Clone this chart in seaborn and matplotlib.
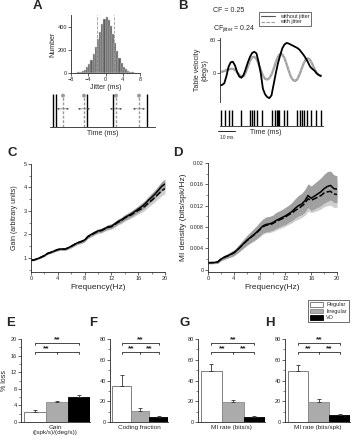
import numpy as np
import pandas as pd
import matplotlib
matplotlib.use("Agg")
import matplotlib.pyplot as plt
import seaborn as sns
from matplotlib.lines import Line2D
from matplotlib.patches import Patch
from matplotlib.ticker import MultipleLocator, FuncFormatter

sns.set_style("ticks")
plt.rcParams["font.family"] = ["Liberation Sans", "DejaVu Sans"]
plt.rcParams["mathtext.fontset"] = "custom"
plt.rcParams["mathtext.rm"] = "Liberation Sans"
plt.rcParams["mathtext.it"] = "Liberation Sans"

# ---------------- data ----------------
# A: jitter histogram
jitter_bin_edges = [-7.0, -6.5, -6.0, -5.5, -5.0, -4.5, -4.0, -3.5, -3.0, -2.5, -2.0, -1.5, -1.0, -0.5,
                    0.0, 0.5, 1.0, 1.5, 2.0, 2.5, 3.0, 3.5, 4.0, 4.5, 5.0, 5.5, 6.0, 6.5, 7.0]
jitter_counts = [3, 6, 11, 18, 30, 48, 75, 110, 160, 220, 290, 355, 420, 465,
                 480, 460, 405, 335, 260, 190, 130, 88, 56, 34, 20, 11, 6, 3]
jitter_sd_marks = [-2, 2]
spikes_true = [3, 6, 37, 63, 97]
spikes_jittered = [13, 34, 66, 89]
jitter_halfwidth = 6

# B: table velocity traces (sampled every 1.25 ms)
vel_stim = [2, 3, 4, 6, 7, 8, 8, 6, 2, -3, -6, -5, 2, 12, 23, 29, 30, 26, 17, 6, -4, -10, -11, -9,
            -2, 8, 20, 30, 35, 34, 28, 17, 5, -6, -12, -14, -11, -3, 8, 18, 25, 27, 24, 17, 8, 1, -3, -4]
vel_jitter = [3, 2, 5, 5, 8, 9, 7, 5, 1, -4, -5, -4, 3, 13, 22, 30, 29, 25, 16, 5, -5, -9, -12, -8,
              -1, 9, 21, 31, 33, 36, 27, 18, 4, -5, -11, -13, -10, -2, 9, 19, 27, 25, 26, 15, 9, 2, -2, -5]
vel_nojitter = [-22, -21, -18, -5, 12, 20, 21, 14, 2, -6, -8, -3, 8, 20, 30, 37, 39, 36, 20, 0, -28, -38, -43, -45,
                -40, -20, 0, 18, 32, 45, 52, 55, 54, 52, 50, 48, 46, 43, 38, 33, 27, 20, 12, 8, 5, 0, -3, -5]
raster_spikes = [0.3, 2.9, 5.5, 6.8, 12, 17.5, 18.9, 19.8, 21.8, 24.3, 30.3, 32, 33, 33.8, 34.5,
                 37.3, 39.3, 44.6, 46.6, 47.8, 49.1, 50.5, 52.9, 55.9, 58.6]
scale_bar_ms = [-1, 9]

# C/D: frequency axis
freq_hz = [0, 0.5, 1, 1.5, 2, 2.5, 3, 3.5, 4, 4.5, 5, 5.5, 6, 6.5, 7, 7.5, 8, 8.5, 9, 9.5, 10,
           10.5, 11, 11.5, 12, 12.5, 13, 13.5, 14, 14.5, 15, 15.5, 16, 16.5, 17, 17.5, 18, 18.5, 19, 19.5, 20]
gain_nojit = [0.90, 0.92, 0.97, 1.03, 1.10, 1.20, 1.24, 1.30, 1.36, 1.38, 1.37, 1.42, 1.50, 1.58, 1.65,
              1.70, 1.76, 1.92, 2.00, 2.08, 2.15, 2.18, 2.25, 2.32, 2.35, 2.45, 2.55, 2.62, 2.72, 2.80,
              2.88, 2.98, 3.08, 3.18, 3.30, 3.45, 3.58, 3.72, 3.88, 4.05, 4.15]
gain_jit = [0.90, 0.92, 0.97, 1.03, 1.10, 1.19, 1.24, 1.30, 1.35, 1.38, 1.37, 1.42, 1.49, 1.57, 1.64,
            1.69, 1.75, 1.90, 1.98, 2.06, 2.13, 2.16, 2.23, 2.30, 2.33, 2.42, 2.52, 2.59, 2.70, 2.77,
            2.84, 2.93, 3.02, 3.10, 3.20, 3.33, 3.45, 3.58, 3.72, 3.86, 3.95]
gain_sem_nojit = [0.03, 0.03, 0.03, 0.03, 0.04, 0.04, 0.04, 0.04, 0.05, 0.05, 0.05, 0.05, 0.06, 0.06, 0.06,
                  0.07, 0.07, 0.07, 0.08, 0.08, 0.08, 0.09, 0.09, 0.10, 0.10, 0.10, 0.11, 0.11, 0.12, 0.12,
                  0.13, 0.13, 0.14, 0.15, 0.15, 0.16, 0.17, 0.18, 0.19, 0.20, 0.21]
gain_sem_jit = [0.03, 0.03, 0.03, 0.04, 0.04, 0.04, 0.05, 0.05, 0.05, 0.06, 0.06, 0.06, 0.07, 0.07, 0.07,
                0.08, 0.08, 0.08, 0.09, 0.09, 0.10, 0.10, 0.10, 0.11, 0.11, 0.12, 0.12, 0.13, 0.13, 0.14,
                0.14, 0.15, 0.15, 0.16, 0.17, 0.17, 0.18, 0.19, 0.20, 0.21, 0.22]
mi_nojit = [0.00135, 0.00135, 0.00138, 0.00150, 0.00200, 0.00235, 0.00260, 0.00290, 0.00320, 0.00370,
            0.00430, 0.00490, 0.00550, 0.00600, 0.00650, 0.00700, 0.00760, 0.00820, 0.00850, 0.00860,
            0.00880, 0.00920, 0.00950, 0.00980, 0.01010, 0.01050, 0.01090, 0.01150, 0.01200, 0.01230,
            0.01290, 0.01390, 0.01340, 0.01380, 0.01420, 0.01460, 0.01520, 0.01560, 0.01580, 0.01520, 0.01510]
mi_jit = [0.00135, 0.00135, 0.00137, 0.00148, 0.00198, 0.00232, 0.00258, 0.00287, 0.00317, 0.00366,
          0.00425, 0.00484, 0.00543, 0.00592, 0.00641, 0.00690, 0.00748, 0.00806, 0.00835, 0.00845,
          0.00864, 0.00902, 0.00930, 0.00958, 0.00990, 0.01030, 0.01060, 0.01110, 0.01150, 0.01190,
          0.01240, 0.01330, 0.01300, 0.01330, 0.01360, 0.01390, 0.01440, 0.01460, 0.01470, 0.01420, 0.01410]
mi_sem_nojit = [0.0002, 0.0002, 0.0002, 0.0003, 0.0003, 0.0004, 0.0004, 0.0005, 0.0005, 0.0006,
                0.0007, 0.0008, 0.0009, 0.0010, 0.0011, 0.0012, 0.0013, 0.0013, 0.0014, 0.0014,
                0.0014, 0.0015, 0.0015, 0.0015, 0.0016, 0.0016, 0.0017, 0.0018, 0.0019, 0.0020,
                0.0021, 0.0022, 0.0023, 0.0024, 0.0025, 0.0026, 0.0027, 0.0028, 0.0027, 0.0026, 0.0025]
mi_sem_jit = [0.0002, 0.0002, 0.0002, 0.0003, 0.0003, 0.0004, 0.0004, 0.0005, 0.0006, 0.0006,
              0.0007, 0.0008, 0.0009, 0.0010, 0.0011, 0.0012, 0.0013, 0.0014, 0.0014, 0.0015,
              0.0015, 0.0016, 0.0016, 0.0017, 0.0017, 0.0018, 0.0018, 0.0019, 0.0020, 0.0021,
              0.0022, 0.0023, 0.0023, 0.0024, 0.0025, 0.0025, 0.0026, 0.0026, 0.0026, 0.0025, 0.0024]

# E-H: % loss bars
groups = ["Regular", "Irregular", "VO"]
loss_gain = [2.3, 4.8, 6.0]
loss_gain_err = [0.7, 0.3, 0.5]
loss_cf = [35, 11, 5]
loss_cf_err = [10, 2.5, 1]
loss_mi_rate = [49, 19, 4.5]
loss_mi_rate_err = [7, 2, 1]
loss_mi_spk = [49, 19.5, 7]
loss_mi_spk_err = [6, 3, 1]

# ---------------- figure ----------------
W, H = 359, 440
fig = plt.figure(figsize=(W / 100, H / 100), dpi=100)


def add_ax(l, t, r, b):
    return fig.add_axes([l / W, 1 - b / H, (r - l) / W, (b - t) / H])


def style(ax, ls=4):
    for s in ["top", "right"]:
        ax.spines[s].set_visible(False)
    for s in ["left", "bottom"]:
        ax.spines[s].set_linewidth(0.6)
    ax.tick_params(which="major", length=2, width=0.5, labelsize=ls, pad=1)
    ax.tick_params(which="minor", length=1.2, width=0.4)


tick_fmt = FuncFormatter(lambda v, p: "0" if abs(v) < 1e-12 else f"{v:g}")

# ---- A histogram
axA = add_ax(71, 15, 140, 73)
centers = [(a + b) / 2 for a, b in zip(jitter_bin_edges[:-1], jitter_bin_edges[1:])]
sns.histplot(x=centers, weights=jitter_counts, bins=jitter_bin_edges, color="#5e5e5e",
             edgecolor="#d0d0d0", linewidth=0.35, alpha=1, ax=axA)
for v in jitter_sd_marks:
    axA.axvline(v, color="#9a9a9a", ls="--", lw=0.6)
axA.set_xlim(-8, 8)
axA.set_ylim(0, 500)
axA.set_xticks([-8, -4, 0, 4, 8])
axA.set_yticks([0, 200, 400])
style(axA)
axA.set_xlabel("Jitter (ms)", fontsize=5, labelpad=1)
axA.set_ylabel("Number", fontsize=5, labelpad=1)

# ---- A spike schematic
axS = add_ax(50, 94, 155, 127)
sns.rugplot(x=spikes_true, height=1.0, color="k", lw=1.2, expand_margins=False, ax=axS)
sns.rugplot(x=spikes_jittered, height=0.95, color="#9a9a9a", lw=0.8, linestyle=(0, (2, 1.2)),
            expand_margins=False, ax=axS)
sns.scatterplot(x=spikes_jittered, y=[0.95] * len(spikes_jittered), color="#9a9a9a", s=8,
                edgecolor="none", ax=axS, clip_on=False)
for x in spikes_jittered:
    axS.annotate("", xy=(x + jitter_halfwidth, 0.55), xytext=(x - jitter_halfwidth, 0.55),
                 arrowprops=dict(arrowstyle="<|-|>", lw=0.4, color="#555555",
                                 mutation_scale=2.5, shrinkA=0, shrinkB=0))
axS.set_xlim(0, 105)
axS.set_ylim(0, 1)
for s in ["top", "right", "left"]:
    axS.spines[s].set_visible(False)
axS.spines["bottom"].set_linewidth(0.6)
axS.set_xticks([])
axS.set_yticks([])
axS.set_xlabel("Time (ms)", fontsize=5, labelpad=2)

# ---- B traces
t_ms = np.arange(len(vel_stim)) * 1.25
axB = add_ax(220, 38, 323, 102)
sns.lineplot(x=t_ms, y=vel_stim, color="#9a9a9a", lw=1.6, ax=axB)
sns.lineplot(x=t_ms, y=vel_jitter, color="#b4b4b4", lw=1.0, linestyle=(0, (2, 1)), ax=axB)
sns.lineplot(x=t_ms, y=vel_nojitter, color="k", lw=1.3, ax=axB)
axB.set_xlim(0, 60)
axB.set_ylim(-52, 64)
axB.set_yticks([0, 60])
axB.set_xticks([])
style(axB)
axB.spines["bottom"].set_visible(False)
axB.set_ylabel("Table velocity\n(deg/s)", fontsize=5, labelpad=1, linespacing=1.0)

fig.text(213 / W, 1 - 10 / H, "CF = 0.25", fontsize=5, va="center", ha="left")
fig.text(213 / W, 1 - 29 / H, r"CF$_{\rm jitter}$ = 0.24", fontsize=5, va="center", ha="left")
legB = fig.legend(handles=[Line2D([], [], color="#555555", lw=0.8),
                           Line2D([], [], color="#9a9a9a", lw=0.8, ls=(0, (3, 1.5)))],
                  labels=["without jitter", "with jitter"], loc="upper left",
                  bbox_to_anchor=(259 / W, 1 - 12 / H), fontsize=4, frameon=True, fancybox=False,
                  edgecolor="k", borderpad=0.3, handlelength=2.6, labelspacing=0.15,
                  handletextpad=0.8, borderaxespad=0)
legB.get_frame().set_linewidth(0.5)

# ---- B raster
axR = add_ax(220, 110, 323, 126)
sns.rugplot(x=raster_spikes, height=1.0, color="k", lw=0.6, expand_margins=False, ax=axR)
axR.plot(scale_bar_ms, [-0.3, -0.3], color="k", lw=0.6, clip_on=False)
axR.text(sum(scale_bar_ms) / 2, -0.55, "10 ms", fontsize=3.5, ha="center", va="top")
axR.set_xlim(0, 60)
axR.set_ylim(0, 1)
for s in ["top", "right", "left"]:
    axR.spines[s].set_visible(False)
axR.spines["bottom"].set_linewidth(0.6)
axR.set_xticks([])
axR.set_yticks([])
fig.text(266 / W, 1 - 133 / H, "Time (ms)", fontsize=5, ha="center", va="center")

# ---- C
axC = add_ax(31, 164, 165, 272)
lo_j = [m - s for m, s in zip(gain_jit, gain_sem_jit)]
hi_j = [m + s for m, s in zip(gain_jit, gain_sem_jit)]
lo_n = [m - s for m, s in zip(gain_nojit, gain_sem_nojit)]
hi_n = [m + s for m, s in zip(gain_nojit, gain_sem_nojit)]
axC.fill_between(freq_hz, lo_j, hi_j, color="#cfcfcf", lw=0)
axC.fill_between(freq_hz, lo_n, hi_n, color="#a0a0a0", lw=0)
sns.lineplot(x=freq_hz, y=gain_jit, color="k", lw=1.1, linestyle=(0, (4, 1.5)), ax=axC)
sns.lineplot(x=freq_hz, y=gain_nojit, color="k", lw=1.1, ax=axC)
axC.set_xlim(0, 20)
axC.set_ylim(0.4, 5)
axC.set_xticks([0, 4, 8, 12, 16, 20])
axC.set_yticks([1, 2, 3, 4, 5])
axC.xaxis.set_minor_locator(MultipleLocator(2))
axC.yaxis.set_minor_locator(MultipleLocator(0.5))
style(axC)
axC.set_xlabel("Frequency(Hz)", fontsize=6, labelpad=2)
axC.set_ylabel("Gain (arbitrary units)", fontsize=5, labelpad=4)

# ---- D
axD = add_ax(208, 163, 337, 272)
lo_j = [m - s for m, s in zip(mi_jit, mi_sem_jit)]
hi_j = [m + s for m, s in zip(mi_jit, mi_sem_jit)]
lo_n = [m - s for m, s in zip(mi_nojit, mi_sem_nojit)]
hi_n = [m + s for m, s in zip(mi_nojit, mi_sem_nojit)]
axD.fill_between(freq_hz, lo_j, hi_j, color="#cfcfcf", lw=0)
axD.fill_between(freq_hz, lo_n, hi_n, color="#a0a0a0", lw=0)
sns.lineplot(x=freq_hz, y=mi_jit, color="k", lw=1.1, linestyle=(0, (4, 1.5)), ax=axD)
sns.lineplot(x=freq_hz, y=mi_nojit, color="k", lw=1.1, ax=axD)
axD.set_xlim(0, 20)
axD.set_ylim(-0.0004, 0.02)
axD.set_xticks([0, 4, 8, 12, 16, 20])
axD.set_yticks([0, 0.004, 0.008, 0.012, 0.016, 0.02])
axD.yaxis.set_major_formatter(tick_fmt)
axD.xaxis.set_minor_locator(MultipleLocator(2))
axD.yaxis.set_minor_locator(MultipleLocator(0.002))
style(axD)
axD.set_xlabel("Frequency(Hz)", fontsize=6, labelpad=2)
axD.set_ylabel("MI density (bits/spk/Hz)", fontsize=6, labelpad=2)

# ---- E-H bars
bar_colors = {"Regular": "#ffffff", "Irregular": "#ababab", "VO": "#000000"}
bar_edges = ["#6a6a6a", "#8a8a8a", "#000000"]


def bar_panel(l, r, vals, errs, ymax, step, minor, xlabel, low_stars):
    ax = add_ax(l, 339, r, 422)
    df = pd.DataFrame({"group": groups, "val": vals})
    sns.barplot(data=df, x="group", y="val", hue="group", palette=bar_colors, width=1.0,
                errorbar=None, legend=False, linewidth=0.6, ax=ax)
    for p, ec in zip(ax.patches, bar_edges):
        p.set_edgecolor(ec)
    pos = np.arange(len(groups))
    ax.errorbar(pos, vals, yerr=[[0] * len(vals), errs], fmt="none", ecolor="#333333",
                elinewidth=0.6, capsize=1.2, capthick=0.6)
    ax.set_xlim(-0.62, 2.5)
    ax.set_ylim(0, ymax)
    ax.set_yticks(np.arange(0, ymax + 0.1, step))
    ax.yaxis.set_minor_locator(MultipleLocator(minor))
    ax.set_xticks([])
    style(ax)
    ax.set_xlabel(xlabel, fontsize=4.6, labelpad=2, linespacing=1.1)
    ax.set_ylabel("")
    # significance brackets
    yu, yl, d = 0.955 * ymax, 0.845 * ymax, 0.03 * ymax
    kw = dict(color="k", lw=0.5, clip_on=False)
    ax.plot([0, 0, 2, 2], [yu - d, yu, yu, yu - d], **kw)
    ax.text(1, yu - 0.01 * ymax, "**", fontsize=6, fontweight="bold", ha="center", va="bottom")
    ax.plot([0, 0, 2, 2], [yl - d, yl, yl, yl - d], **kw)
    ax.plot([1, 1], [yl, yl - d], **kw)
    for xs, st in zip([0.5, 1.5], low_stars):
        if st:
            ax.text(xs, yl - 0.01 * ymax, st, fontsize=6, fontweight="bold", ha="center", va="bottom")
    return ax


axE = bar_panel(21, 90, loss_gain, loss_gain_err, 20, 4, 2, "Gain\n((spk/s)/(deg/s))", ["**", ""])
axE.set_ylabel("% loss", fontsize=5, labelpad=2)
bar_panel(110, 168, loss_cf, loss_cf_err, 80, 20, 10, "Coding fraction", ["**", "**"])
bar_panel(198, 265, loss_mi_rate, loss_mi_rate_err, 80, 20, 10, "MI rate (bits/s)", ["**", "**"])
bar_panel(285, 350, loss_mi_spk, loss_mi_spk_err, 80, 20, 10, "MI rate (bits/spk)", ["**", "**"])

legE = fig.legend(handles=[Patch(fc=bar_colors[g], ec=e, lw=0.6) for g, e in zip(groups, bar_edges)],
                  labels=groups, loc="upper left", bbox_to_anchor=(308 / W, 1 - 300 / H),
                  fontsize=4, frameon=True, fancybox=False, edgecolor="k", borderpad=0.35,
                  handlelength=2.4, handleheight=0.9, labelspacing=0.25, handletextpad=0.5,
                  borderaxespad=0)
legE.get_frame().set_linewidth(0.5)

# ---- panel letters
letters = {"A": (37, 6), "B": (183, 6), "C": (12, 153), "D": (178, 153),
           "E": (11, 323), "F": (93, 323), "G": (185, 323), "H": (270, 323)}
for k, (x, y) in letters.items():
    fig.text(x / W, 1 - y / H, k, fontsize=9.5, fontweight="bold", ha="center", va="center")

fig.savefig("out.png", dpi=100)
